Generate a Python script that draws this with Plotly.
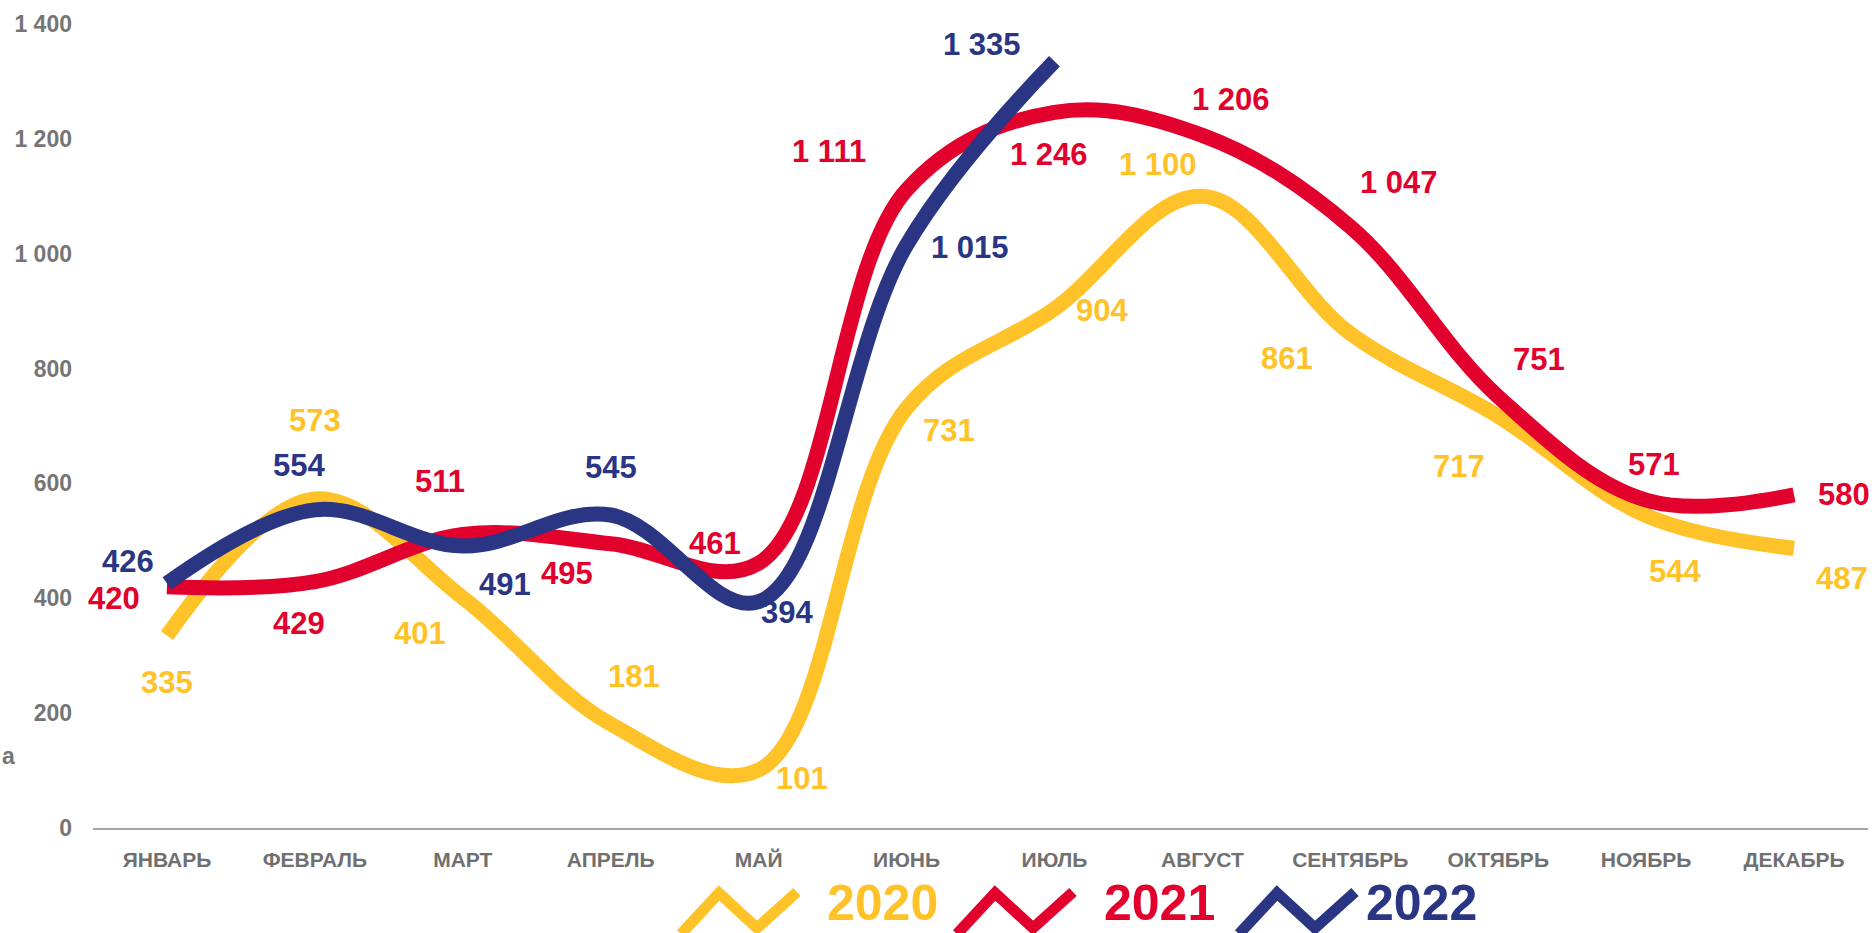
import plotly.graph_objects as go

months = ["ЯНВАРЬ", "ФЕВРАЛЬ", "МАРТ", "АПРЕЛЬ", "МАЙ", "ИЮНЬ", "ИЮЛЬ",
          "АВГУСТ", "СЕНТЯБРЬ", "ОКТЯБРЬ", "НОЯБРЬ", "ДЕКАБРЬ"]
years = ["2020", "2021", "2022"]
values_2020 = [335, 573, 401, 181, 101, 731, 904, 1100, 861, 717, 544, 487]
values_2021 = [420, 429, 511, 495, 461, 1111, 1246, 1206, 1047, 751, 571, 580]
values_2022 = [426, 554, 491, 545, 394, 1015, 1335]
y_tickvals = [0, 200, 400, 600, 800, 1000, 1200, 1400]
y_ticktext = ["0", "200", "400", "600", "800", "1 000", "1 200", "1 400"]

colors = {"2020": "#FFC329", "2021": "#E2012D", "2022": "#2A3583"}
series = {"2020": values_2020, "2021": values_2021, "2022": values_2022}

# label offsets (pixels) for data labels
offsets = {
    "2020": [(0, -47), (0, 78), (-43, -36), (23, 48), (43, -8), (42, -22),
             (48, -2), (-44, 32), (-63, -25), (-39, -50), (29, -56), (48, -30)],
    "2021": [(-53, -12), (-16, -42), (-23, 53), (-44, -30), (-44, 20), (-78, 38),
             (-5, -42), (29, 36), (49, 44), (41, 37), (8, 36), (50, 0)],
    "2022": [(-39, 22), (-16, 44), (42, -38), (0, 48), (28, -11), (63, -2), (-72, 17)],
}

W, H = 1875, 933
L, R, T, B = 93, 7, 24, 105
PW, PH = W - L - R, H - T - B


def px(x):
    return (x - L) / PW


def py(y):
    return (H - B - y) / PH


def fmt(v):
    return f"{v:,}".replace(",", " ")


FONT = "Liberation Sans, Arial"

fig = go.Figure()
for yr in years:
    vals = series[yr]
    fig.add_trace(go.Scatter(
        x=months[:len(vals)], y=vals, mode="lines",
        line=dict(color=colors[yr], width=15, shape="spline", smoothing=1.05),
        showlegend=False, hoverinfo="skip",
    ))

annotations = []
for yr in years:
    vals = series[yr]
    for i, v in enumerate(vals):
        dx, dy = offsets[yr][i]
        annotations.append(dict(
            x=months[i], y=v, xref="x", yref="y", text=fmt(v), showarrow=False,
            xshift=dx, yshift=dy, xanchor="center", yanchor="middle",
            font=dict(family=FONT, size=31, color=colors[yr], weight="bold"),
        ))

# stray clipped text on left edge
annotations.append(dict(
    x=px(0), y=py(756), xref="paper", yref="paper", text="а", showarrow=False,
    xanchor="left", yanchor="middle",
    font=dict(family=FONT, size=23, color="#757575", weight="bold"),
))

# custom legend
sym_x0 = [681, 957, 1239]
text_x0 = [825, 1102, 1364]
shapes = []
for k, yr in enumerate(years):
    x0 = sym_x0[k]
    pts = [(x0, 934), (x0 + 38, 893), (x0 + 76, 928), (x0 + 116, 892)]
    path = "M " + " L ".join(f"{px(a):.5f},{py(b):.5f}" for a, b in pts)
    shapes.append(dict(type="path", path=path, xref="paper", yref="paper",
                       line=dict(color=colors[yr], width=11)))
    annotations.append(dict(
        x=px(text_x0[k]), y=py(903), xref="paper", yref="paper", text=yr,
        showarrow=False, xanchor="left", yanchor="middle",
        font=dict(family=FONT, size=50, color=colors[yr], weight="bold"),
    ))

fig.update_layout(
    width=W, height=H,
    margin=dict(l=L, r=R, t=T, b=B),
    paper_bgcolor="white", plot_bgcolor="white",
    annotations=annotations, shapes=shapes,
    xaxis=dict(
        type="category", categoryorder="array", categoryarray=months,
        range=[-0.5, 11.5], showgrid=False, zeroline=False,
        showline=True, linecolor="#A6A6A6", linewidth=1.5,
        ticks="", ticklabelstandoff=12,
        tickfont=dict(family=FONT, size=21, color="#707070", weight="bold"),
    ),
    yaxis=dict(
        range=[0, 1400], tickvals=y_tickvals, ticktext=y_ticktext,
        showgrid=False, zeroline=False, showline=False, ticks="",
        ticklabelstandoff=20,
        tickfont=dict(family=FONT, size=23, color="#757575", weight="bold"),
    ),
)

fig.write_html(
    "out.html",
    config={"displayModeBar": False},
    post_script="document.body.style.margin='0';document.body.style.overflow='hidden';",
)
